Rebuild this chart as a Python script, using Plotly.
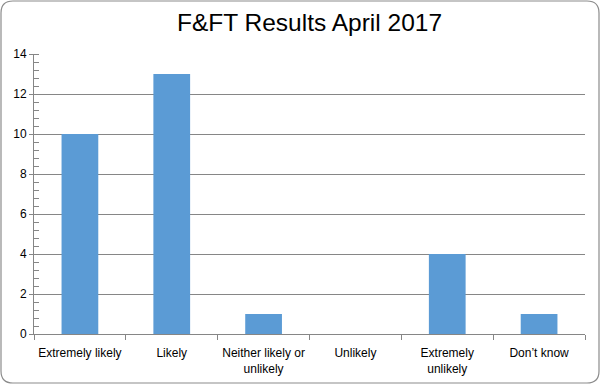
import plotly.graph_objects as go

categories = ["Extremely likely", "Likely", "Neither likely or<br>unlikely", "Unlikely", "Extremely<br>unlikely", "Don’t know"]
values = [10, 13, 1, 0, 4, 1]
title = "F&FT Results April 2017"

W, H = 601, 385
ml, mr, mt, mb = 34, 16, 54, 51
pw, ph = W - ml - mr, H - mt - mb

def px(x):
    return (x - ml) / pw

def py(y):
    return (H - mb - y) / ph

fig = go.Figure()
fig.add_trace(go.Bar(x=categories, y=values, marker=dict(color="#5B9BD5", line=dict(width=0)), width=0.4))

# rounded border
x0, x1, y0, y1, r = 1, 599, 1, 383, 12
path = (f"M {px(x0+r)} {py(y0)} L {px(x1-r)} {py(y0)} "
        f"Q {px(x1)} {py(y0)} {px(x1)} {py(y0+r)} L {px(x1)} {py(y1-r)} "
        f"Q {px(x1)} {py(y1)} {px(x1-r)} {py(y1)} L {px(x0+r)} {py(y1)} "
        f"Q {px(x0)} {py(y1)} {px(x0)} {py(y1-r)} L {px(x0)} {py(y0+r)} "
        f"Q {px(x0)} {py(y0)} {px(x0+r)} {py(y0)} Z")
fig.add_shape(type="path", xref="paper", yref="paper", path=path,
              line=dict(color="#8c8c8c", width=1.2), layer="above")

fig.update_layout(
    width=W, height=H,
    margin=dict(l=ml, r=mr, t=mt, b=mb, autoexpand=False),
    paper_bgcolor="white", plot_bgcolor="white",
    title=dict(text=title, x=0.5, xref="paper", xanchor="center", y=1 - 22 / H, yanchor="middle",
               font=dict(family="Liberation Sans", size=24.5, color="#000")),
    showlegend=False,
    font=dict(family="Liberation Sans", size=12, color="#000"),
    xaxis=dict(type="category", showline=True, linecolor="#868686", linewidth=1,
               ticks="outside", tickson="boundaries", ticklen=5, tickcolor="#868686",
               showgrid=False, tickfont=dict(size=12), tickangle=0, automargin=False,
               ticklabelstandoff=8),
    yaxis=dict(range=[0, 14], dtick=2, showline=True, linecolor="#868686", linewidth=1,
               ticks="outside", ticklen=4, tickcolor="#868686",
               showgrid=True, gridcolor="#868686", gridwidth=1, zeroline=False,
               tickfont=dict(size=12), automargin=False,
               minor=dict(dtick=0.4, ticks="inside", ticklen=5, tickcolor="#868686", showgrid=False)),
    bargap=0.6,
)

fig.write_html("out.html", config={"displayModeBar": False},
               post_script="document.body.style.margin='0';document.body.style.overflow='hidden';")
